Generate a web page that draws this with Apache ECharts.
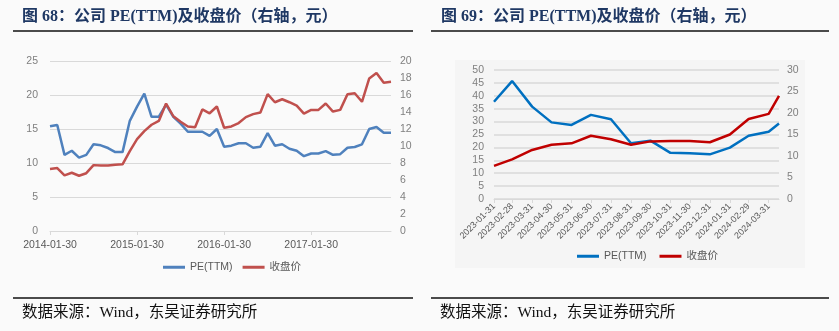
<!DOCTYPE html>
<html><head><meta charset="utf-8">
<script src="https://cdn.jsdelivr.net/npm/echarts@6/dist/echarts.min.js"></script>
<style>html,body{margin:0;padding:0;background:#fafafa;}#c{width:839px;height:331px;}</style>
</head><body><div id="c"></div>
<script>
// ---- Left chart (图68) ----
var leftYears = [2014, 2015, 2016, 2017];
var leftPE = [15.4,15.6,11.2,11.8,10.8,11.2,12.75,12.6,12.2,11.6,11.6,16.2,
  18.3,20.2,16.8,16.8,18.6,16.8,15.8,14.6,14.6,14.6,14.0,15.0,
  12.4,12.55,12.9,12.9,12.25,12.4,14.4,12.55,12.75,12.1,11.8,11.0,
  11.4,11.4,11.75,11.2,11.3,12.25,12.35,12.75,15.0,15.3,14.45,14.45];
var leftPrice = [7.3,7.4,6.55,6.85,6.5,6.8,7.75,7.7,7.7,7.8,7.85,9.4,
  10.8,11.75,12.5,12.95,15.0,13.5,12.85,12.3,12.2,14.3,13.85,14.65,
  12.15,12.3,12.7,13.4,13.75,13.95,16.1,15.15,15.5,15.15,14.75,13.8,
  14.25,14.25,15.0,14.05,14.25,16.1,16.2,15.2,17.95,18.6,17.45,17.55];
// ---- Right chart (图69) ----
var rightDates = ['2023-01-31','2023-02-28','2023-03-31','2023-04-30','2023-05-31','2023-06-30',
  '2023-07-31','2023-08-31','2023-09-30','2023-10-31','2023-11-30','2023-12-31',
  '2024-01-31','2024-02-29','2024-03-31','2024-04-16'];
var rightTickLabels = ['2023-01-31','2023-02-28','2023-03-31','2023-04-30','2023-05-31','2023-06-30',
  '2023-07-31','2023-08-31','2023-09-30','2023-10-31','2023-11-30','2023-12-31',
  '2024-01-31','2024-02-29','2024-03-31'];
var rightPE = [37.7,45.7,35.8,29.7,28.7,32.6,30.9,21.6,22.6,17.9,17.7,17.3,19.9,24.5,26.1,29.3];
var rightPrice = [7.7,9.2,11.4,12.6,12.95,14.7,13.9,12.6,13.4,13.5,13.5,13.2,15.0,18.6,19.8,24.0];

var leftCats = [];
for (var y = leftYears[0]; y <= leftYears[leftYears.length-1]; y++) {
  for (var m = 1; m <= 12; m++) leftCats.push(y + '-' + (m < 10 ? '0' + m : m) + '-30');
}
// day number (days since epoch, UTC) for a 'YYYY-MM-DD' string
function dn(s){var p=s.split('-');return Date.UTC(+p[0],+p[1]-1,+p[2])/86400000;}
function fmt(v){var d=new Date(Math.round(v)*86400000);var m=d.getUTCMonth()+1,dd=d.getUTCDate();return d.getUTCFullYear()+'-'+(m<10?'0'+m:m)+'-'+(dd<10?'0'+dd:dd);}

var sans = '"Liberation Sans","Noto Sans CJK SC",sans-serif';
var serif = '"Liberation Serif","Noto Sans CJK SC",serif';
var grey = '#7f7f7f';
var gridCol = '#d9d9d9';
var chart = echarts.init(document.getElementById('c'), null, {renderer:'canvas'});
chart.setOption({
  backgroundColor: '#fafafa',
  animation: false,
  title: [
    {text: '图 68：公司 PE(TTM)及收盘价（右轴，元）', left: 22, top: 9, padding: 0,
     textStyle: {fontSize: 16, fontWeight: 'bold', color: '#1f3864', fontFamily: serif}},
    {text: '图 69：公司 PE(TTM)及收盘价（右轴，元）', left: 441, top: 9, padding: 0,
     textStyle: {fontSize: 16, fontWeight: 'bold', color: '#1f3864', fontFamily: serif}},
    {text: '数据来源：Wind，东吴证券研究所', left: 22, top: 305, padding: 0,
     textStyle: {fontSize: 15.5, fontWeight: 'normal', color: '#111', fontFamily: serif}},
    {text: '数据来源：Wind，东吴证券研究所', left: 440, top: 305, padding: 0,
     textStyle: {fontSize: 15.5, fontWeight: 'normal', color: '#111', fontFamily: serif}}
  ],
  graphic: [
    {type: 'rect', shape: {x: 455, y: 60, width: 350, height: 208}, style: {fill: '#f5f5f5'}, z: -10},
    {type: 'line', shape: {x1: 13, y1: 31, x2: 413, y2: 31}, style: {stroke: '#111', lineWidth: 1.5}},
    {type: 'line', shape: {x1: 431, y1: 31, x2: 829, y2: 31}, style: {stroke: '#111', lineWidth: 1.5}},
    {type: 'line', shape: {x1: 13, y1: 298, x2: 413, y2: 298}, style: {stroke: '#111', lineWidth: 1.5}},
    {type: 'line', shape: {x1: 431, y1: 298, x2: 829, y2: 298}, style: {stroke: '#111', lineWidth: 1.5}}
  ],
  legend: [
    {left: 158, top: 257, itemWidth: 22, itemHeight: 3, icon: 'rect', itemGap: 10,
     textStyle: {color: '#595959', fontSize: 10.5, fontFamily: sans},
     data: ['PE(TTM)', '收盘价'], selectedMode: false},
    {left: 572, top: 246, itemWidth: 22, itemHeight: 3, icon: 'rect', itemGap: 10,
     textStyle: {color: '#595959', fontSize: 10.5, fontFamily: sans},
     data: ['PE(TTM) ', '收盘价 '], selectedMode: false}
  ],
  grid: [
    {left: 50, width: 341, top: 61, height: 170},
    {left: 494, width: 285, top: 70, height: 129}
  ],
  xAxis: [
    {type: 'category', gridIndex: 0, data: leftCats, boundaryGap: false,
     axisLine: {lineStyle: {color: gridCol}},
     axisTick: {interval: 11, length: 4, lineStyle: {color: gridCol}},
     axisLabel: {interval: 11, color: '#595959', fontSize: 10.5, fontFamily: sans, margin: 9}},
    {type: 'value', gridIndex: 1, min: dn(rightDates[0]), max: dn(rightDates[rightDates.length-1]),
     axisLine: {show: true, onZero: false, lineStyle: {color: gridCol}},
     splitLine: {show: false},
     axisTick: {show: true, length: 4, lineStyle: {color: gridCol}, customValues: rightTickLabels.map(dn)},
     axisLabel: {rotate: 45, color: '#595959', fontSize: 9, fontFamily: sans, margin: 6,
       customValues: rightTickLabels.map(dn), formatter: function(v){return fmt(v);},
       showMinLabel: true, showMaxLabel: true, hideOverlap: false}}
  ],
  yAxis: [
    {type: 'value', gridIndex: 0, min: 0, max: 25, interval: 5,
     axisLine: {show: false}, axisTick: {show: false},
     splitLine: {lineStyle: {color: gridCol}},
     axisLabel: {color: grey, fontSize: 10.5, fontFamily: sans, margin: 12}},
    {type: 'value', gridIndex: 0, position: 'right', min: 0, max: 20, interval: 2,
     axisLine: {show: false}, axisTick: {show: false}, splitLine: {show: false},
     axisLabel: {color: grey, fontSize: 10.5, fontFamily: sans, margin: 9}},
    {type: 'value', gridIndex: 1, min: 0, max: 50, interval: 5,
     axisLine: {show: false}, axisTick: {show: false},
     splitLine: {lineStyle: {color: gridCol, width: 1.5}},
     axisLabel: {color: grey, fontSize: 10.5, fontFamily: sans, margin: 10}},
    {type: 'value', gridIndex: 1, position: 'right', min: 0, max: 30, interval: 5,
     axisLine: {show: false}, axisTick: {show: false}, splitLine: {show: false},
     axisLabel: {color: grey, fontSize: 10.5, fontFamily: sans, margin: 8}}
  ],
  series: [
    {name: 'PE(TTM)', type: 'line', xAxisIndex: 0, yAxisIndex: 0, data: leftPE, symbol: 'none',
     lineStyle: {color: '#4f81bd', width: 2.5}, itemStyle: {color: '#4f81bd'}},
    {name: '收盘价', type: 'line', xAxisIndex: 0, yAxisIndex: 1, data: leftPrice, symbol: 'none',
     lineStyle: {color: '#c0504d', width: 2.5}, itemStyle: {color: '#c0504d'}},
    {name: 'PE(TTM) ', type: 'line', xAxisIndex: 1, yAxisIndex: 2,
     data: rightDates.map(function(d,i){return [dn(d), rightPE[i]];}), symbol: 'none',
     lineStyle: {color: '#0070c0', width: 2.5}, itemStyle: {color: '#0070c0'}},
    {name: '收盘价 ', type: 'line', xAxisIndex: 1, yAxisIndex: 3,
     data: rightDates.map(function(d,i){return [dn(d), rightPrice[i]];}), symbol: 'none',
     lineStyle: {color: '#c00000', width: 2.5}, itemStyle: {color: '#c00000'}}
  ]
});
</script></body></html>
